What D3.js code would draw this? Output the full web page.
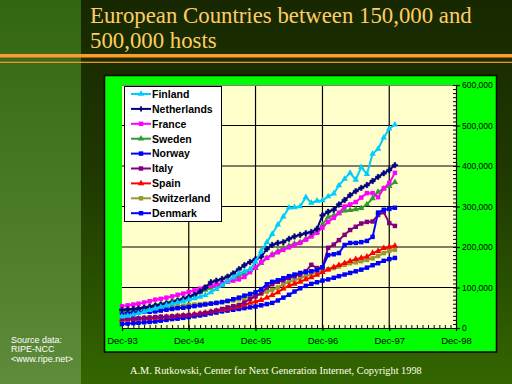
<!DOCTYPE html>
<meta charset="utf-8">
<title>European Countries between 150,000 and 500,000 hosts</title>
<script src="https://d3js.org/d3.v7.min.js"></script>
<style>
    body { margin: 0; background: #1a2e00; }
    svg { display: block; }
</style>
<body>
<script>
    // Monthly host counts (thousands), Dec-93 .. Jan-98
    const countries = ["Finland", "Netherlands", "France", "Sweden", "Norway", "Italy", "Spain", "Switzerland", "Denmark"];
    const colors    = ["#00ccff", "#000080", "#ff00ff", "#339933", "#0000ff", "#800080", "#ff0000", "#999933", "#0000ff"];
    const markers   = ["triangle", "cross", "square", "triangle", "square", "square", "triangle", "square", "square"];

    const finland     = [28,30,33,36,40,44,48,52,56,60,63,66,70,73,77,81,88,96,105,115,125,135,140,145,163,190,212,232,255,275,297,298,300,323,309,314,315,325,332,352,368,383,366,397,380,430,442,470,492,502];
    const netherlands = [45,46,47,48,50,52,55,57,60,63,67,72,77,82,90,100,113,117,121,127,135,145,155,163,170,176,195,205,210,212,220,226,230,234,237,245,278,287,292,305,316,328,338,346,353,363,373,382,390,402];
    const france      = [54,56,58,60,63,66,70,72,75,78,82,85,89,93,97,101,104,107,111,114,117,120,126,138,150,162,173,180,187,193,199,205,210,218,226,235,248,262,272,284,300,305,311,322,333,333,323,345,358,383];
    const sweden      = [42,44,46,48,51,54,57,60,63,67,70,73,77,82,88,94,99,104,108,114,120,128,135,143,148,160,173,182,190,198,203,208,212,220,228,237,255,274,278,283,290,291,293,296,305,320,336,344,350,360];
    const norway      = [38,38,39,39,40,40,41,43,45,47,49,50,52,54,56,58,60,62,64,67,71,75,80,84,88,96,108,114,118,123,128,132,136,138,140,143,150,180,182,185,205,210,210,212,215,225,285,292,294,297];
    const italy       = [22,23,24,24,25,26,27,28,28,29,30,31,32,33,35,37,40,43,47,51,54,57,63,72,78,86,100,108,114,118,124,128,132,140,156,148,150,198,206,217,230,242,250,258,262,263,279,286,259,252];
    const spain       = [20,21,22,23,24,24,25,26,27,28,30,31,32,34,36,38,40,42,44,47,50,53,57,62,65,69,75,81,88,97,104,109,114,120,125,131,138,144,150,155,160,165,170,173,176,185,190,197,200,203];
    const switzerland = [34,36,38,40,42,44,47,49,51,52,54,55,57,58,59,60,61,62,64,66,68,71,74,78,81,85,90,94,100,108,114,118,123,128,133,138,141,145,148,152,156,160,162,165,168,172,178,185,190,193];
    const denmark     = [10,11,12,13,14,15,16,18,20,22,23,25,27,29,31,33,36,38,41,43,45,47,49,51,53,56,59,62,68,75,82,90,98,104,109,113,117,120,124,128,132,136,140,144,149,155,160,166,170,173];

    const seriesValues = [finland, netherlands, france, sweden, norway, italy, spain, switzerland, denmark];

    const xTickLabels = ["Dec-93", "Dec-94", "Dec-95", "Dec-96", "Dec-97", "Dec-98"];
    const yTicks      = [0, 100000, 200000, 300000, 400000, 500000, 600000];

    const width  = 512;
    const height = 384;

    const svg = d3.select("body").append("svg")
        .attr("width", width)
        .attr("height", height);

    // Background gradients
    const defs = svg.append("defs");
    const gMain = defs.append("linearGradient").attr("id", "bgMain").attr("x1", 0).attr("y1", 0).attr("x2", 0).attr("y2", 1);
    gMain.append("stop").attr("offset", "0%").attr("stop-color", "#172800");
    gMain.append("stop").attr("offset", "45%").attr("stop-color", "#1f3800");
    gMain.append("stop").attr("offset", "100%").attr("stop-color", "#336600");
    const gSide = defs.append("linearGradient").attr("id", "bgSide").attr("x1", 0).attr("y1", 0).attr("x2", 0).attr("y2", 1);
    gSide.append("stop").attr("offset", "0%").attr("stop-color", "#336610");
    gSide.append("stop").attr("offset", "100%").attr("stop-color", "#5e8c3a");

    svg.append("rect").attr("width", width).attr("height", height).attr("fill", "url(#bgMain)");
    svg.append("rect").attr("width", 81).attr("height", height).attr("fill", "url(#bgSide)");

    // Title
    const title = svg.append("g")
        .attr("font-family", "'Liberation Serif', 'Times New Roman', serif")
        .attr("font-size", 22.8)
        .attr("fill", "#ffcc66");
    title.append("text").attr("x", 90).attr("y", 23).text("European Countries between 150,000 and");
    title.append("text").attr("x", 90).attr("y", 48).text("500,000 hosts");

    // Orange rules
    svg.append("rect").attr("x", 0).attr("y", 54).attr("width", width).attr("height", 3.5).attr("fill", "#ff9933");
    svg.append("rect").attr("x", 0).attr("y", 61.7).attr("width", width).attr("height", 1.2).attr("fill", "#ff9933");

    // Chart panel
    svg.append("rect")
        .attr("x", 104.5).attr("y", 75.5)
        .attr("width", 392).attr("height", 276.5)
        .attr("fill", "#00ff00")
        .attr("stroke", "#000").attr("stroke-width", 1.5);

    const plot = { left: 122, right: 456, top: 85, bottom: 328 };

    const start = new Date(1993, 11, 1);
    const end   = new Date(1998, 11, 1);
    const months = finland.map((d, i) => d3.timeMonth.offset(start, i));

    const xScale = d3.scaleTime().domain([start, end]).range([plot.left, plot.right]);
    const yScale = d3.scaleLinear().domain([0, 600000]).range([plot.bottom, plot.top]);

    svg.append("rect")
        .attr("x", plot.left).attr("y", plot.top)
        .attr("width", plot.right - plot.left).attr("height", plot.bottom - plot.top)
        .attr("fill", "#ffffcc");

    const yearTicks = d3.timeYear.every(1).range(new Date(1993, 0, 1), new Date(1999, 0, 1)).map(d => new Date(d.getFullYear(), 11, 1));

    // Gridlines
    svg.append("g")
        .selectAll("line.h")
        .data(yTicks.slice(1, -1))
        .join("line")
        .attr("x1", plot.left).attr("x2", plot.right)
        .attr("y1", d => yScale(d)).attr("y2", d => yScale(d))
        .attr("stroke", "#000").attr("stroke-width", 1.2);
    svg.append("g")
        .selectAll("line.v")
        .data(yearTicks.slice(1, -1))
        .join("line")
        .attr("x1", d => xScale(d)).attr("x2", d => xScale(d))
        .attr("y1", plot.top).attr("y2", plot.bottom)
        .attr("stroke", "#000").attr("stroke-width", 1.2);
    svg.append("line")
        .attr("x1", plot.left).attr("x2", plot.right)
        .attr("y1", plot.top + 0.5).attr("y2", plot.top + 0.5)
        .attr("stroke", "#808080").attr("stroke-width", 1);

    // X axis: minor monthly ticks inward, major ticks outward
    const xMinor = d3.axisTop(xScale).ticks(d3.timeMonth.every(1)).tickSize(3).tickFormat("");
    svg.append("g").attr("transform", "translate(0," + plot.bottom + ")").call(xMinor)
        .call(g => g.select(".domain").remove());
    const xAxis = d3.axisBottom(xScale)
        .tickValues(yearTicks)
        .tickSize(3)
        .tickSizeOuter(0)
        .tickFormat((d, i) => xTickLabels[i]);
    svg.append("g")
        .attr("id", "xAxis")
        .attr("transform", "translate(0," + plot.bottom + ")")
        .call(xAxis)
        .call(g => g.selectAll("text").attr("dy", "1.05em").attr("font-size", 9.5).attr("font-family", "Arial, 'Liberation Sans', sans-serif"));

    // Y axis on the right
    const yMinor = d3.axisLeft(yScale).ticks(60).tickSize(3).tickFormat("");
    svg.append("g").attr("transform", "translate(" + plot.right + ",0)").call(yMinor)
        .call(g => g.select(".domain").remove());
    const yAxis = d3.axisRight(yScale)
        .tickValues(yTicks)
        .tickSize(4)
        .tickSizeOuter(0)
        .tickPadding(2)
        .tickFormat(d3.format(","));
    svg.append("g")
        .attr("id", "yAxis")
        .attr("transform", "translate(" + plot.right + ",0)")
        .call(yAxis)
        .call(g => g.selectAll("text").attr("font-size", 8.5).attr("font-family", "Arial, 'Liberation Sans', sans-serif"));

    svg.selectAll("#xAxis path, #xAxis line, #yAxis path, #yAxis line").attr("stroke", "#000").attr("stroke-width", 1.2);

    // Markers
    const symbolFor = name => ({
        triangle: d3.symbol().type(d3.symbolTriangle).size(18)(),
        square:   d3.symbol().type(d3.symbolSquare).size(20)(),
        cross:    d3.symbol().type(d3.symbolCross).size(16)()
    })[name];

    const line = d3.line()
        .x((d, i) => xScale(months[i]))
        .y(d => yScale(d * 1000));

    // Draw series (last drawn on top)
    const order = [8, 7, 6, 5, 4, 3, 2, 1, 0];
    order.forEach(k => {
        const g = svg.append("g").attr("class", "series");
        g.append("path")
            .datum(seriesValues[k])
            .attr("fill", "none")
            .attr("stroke", colors[k])
            .attr("stroke-width", 2)
            .attr("d", line);
        g.selectAll("path.m")
            .data(seriesValues[k])
            .join("path")
            .attr("class", "m")
            .attr("transform", (d, i) => "translate(" + xScale(months[i]) + "," + yScale(d * 1000) + ")")
            .attr("d", symbolFor(markers[k]))
            .attr("fill", colors[k])
            .attr("stroke", colors[k])
            .attr("stroke-width", markers[k] === "cross" ? 0.5 : 0);
    });

    // Legend
    const legend = svg.append("g");
    legend.append("rect")
        .attr("x", 124.5).attr("y", 86.5)
        .attr("width", 97).attr("height", 135)
        .attr("fill", "#fff")
        .attr("stroke", "#000").attr("stroke-width", 1);
    const items = legend.selectAll("g.item")
        .data(countries)
        .join("g")
        .attr("transform", (d, i) => "translate(0," + (94 + i * 14.9) + ")");
    items.append("line")
        .attr("x1", 131).attr("x2", 151)
        .attr("stroke", (d, i) => colors[i]).attr("stroke-width", 2);
    items.append("path")
        .attr("transform", "translate(141,0)")
        .attr("d", (d, i) => symbolFor(markers[i]))
        .attr("fill", (d, i) => colors[i]);
    items.append("text")
        .attr("x", 152).attr("y", 3.8)
        .attr("font-family", "Arial, 'Liberation Sans', sans-serif")
        .attr("font-weight", "bold")
        .attr("font-size", 10.5)
        .attr("fill", "#000")
        .text(d => d);

    // Source note
    const src = svg.append("g")
        .attr("font-family", "Arial, 'Liberation Sans', sans-serif")
        .attr("font-size", 9)
        .attr("fill", "#fff");
    ["Source data:", "RIPE-NCC", "<www.ripe.net>"].forEach((t, i) => {
        src.append("text").attr("x", 11).attr("y", 343 + i * 9.3).text(t);
    });

    // Footer
    svg.append("text")
        .attr("x", 130).attr("y", 374)
        .attr("font-family", "'Liberation Serif', 'Times New Roman', serif")
        .attr("font-size", 10.3)
        .attr("fill", "#ffffee")
        .text("A.M. Rutkowski, Center for Next Generation Internet, Copyright 1998");
</script>
</body>
